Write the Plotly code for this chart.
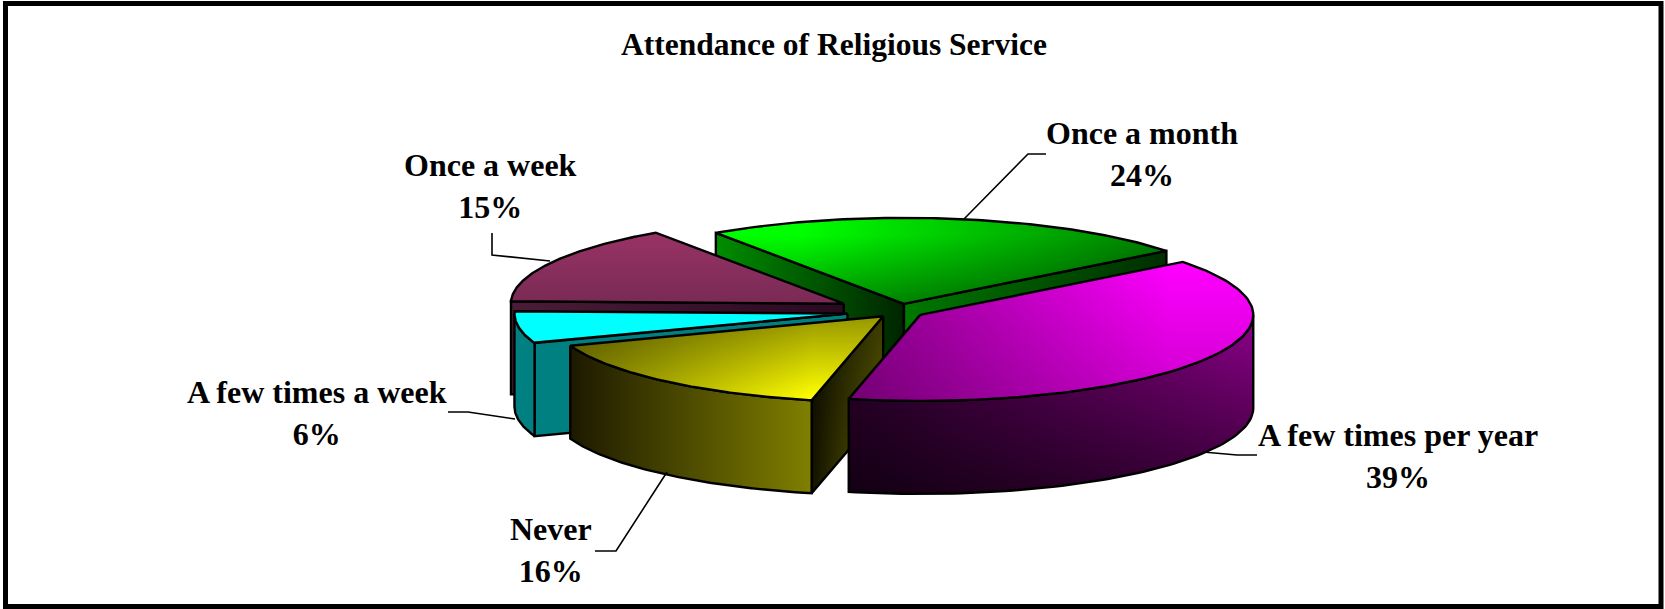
import numpy as np
import plotly.graph_objects as go

# ---- data ----
categories = ["A few times per year", "Never", "A few times a week", "Once a week", "Once a month"]
percent = [39, 16, 6, 15, 24]
title_text = "Attendance of Religious Service"

# ---- style / layout (not data) ----
W, H = 1665, 609
START_ANGLE = 38.0          # degrees, counter-clockwise from +x, slices run clockwise
EXPLODE = [0.074, 0.074, 0.158, 0.19, 0.09]
CX, CY = 899.4, 311.5
RX, RY, DEPTH = 333.0, 86.0, 93.0
DRAW_ORDER = [4, 3, 2, 1, 0]
FONT = "Liberation Serif"
LABEL_SIZE = 32
TITLE_SIZE = 31.5
LABEL_CENTERS = [(1398, 456), (551, 550), (317, 413), (490, 186), (1142, 154)]
LEADERS = [
    [(1257, 455), (1237, 455), (1203, 452)],
    [(595, 551), (616, 551), (667, 472)],
    [(448, 412), (468, 412), (515, 419)],
    [(492, 233), (492, 255), (550, 261)],
    [(1046, 154), (1028, 154), (964, 219)],
]

def bx(x0, x1, c0, c1):
    return dict(type="horizontal", start=x0, stop=x1, colorscale=[[0, c0], [1, c1]])

def by(y0, y1, c0, c1):
    return dict(type="vertical", start=y0, stop=y1, colorscale=[[0, c0], [1, c1]])

clear = "rgba(0,0,0,0)"
def shade(a):
    return f"rgba(0,0,0,{a})"

STYLES = {
    0: dict(top=(bx(850, 1170, "#900090", "#ff00ff"), by(263, 398, clear, shade(0.2))),
            wall=(bx(850, 1253, "#300030", "#8a0088"), by(320, 495, clear, shade(0.62))),
            start=("#400040", None), end=("#400040", None)),
    1: dict(top=(bx(573, 813, "#858500", "#ffff00"), by(315, 398, shade(0.42), clear)),
            wall=(bx(573, 813, "#1e1a00", "#808000"), None),
            start=(bx(813, 883, "#141400", "#6a6a00"), by(315, 490, shade(0.45), clear)),
            end=("#202000", None)),
    2: dict(top=("#00ffff", None), wall=("#008080", None),
            start=("#008080", None), end=("#008080", None)),
    3: dict(top=(by(231, 302, "#993366", "#7a2a55"), None), wall=("#301026", None),
            start=(bx(510, 842, "#4a1c38", "#2a0a20"), None), end=("#301026", None)),
    4: dict(top=(bx(800, 1173, "#00ff00", "#007c00"), by(235, 305, clear, shade(0.42))),
            wall=("#004000", None),
            start=(bx(718, 905, "#008c00", "#002400"), None),
            end=(bx(905, 1173, "#007800", "#002c00"), None)),
}

# ---- geometry derived from the values ----
fractions = np.array(percent, dtype=float) / sum(percent)
sweeps = fractions * 360.0
edges = START_ANGLE - np.concatenate([[0.0], np.cumsum(sweeps)])

fig = go.Figure()

def add_face(xs, ys, recipe):
    xs = list(xs) + [xs[0]]
    ys = list(ys) + [ys[0]]
    base, overlay = recipe
    layers = [base] + ([overlay] if overlay is not None else [])
    for i, layer in enumerate(layers):
        last = i == len(layers) - 1
        kw = dict(x=xs, y=ys, mode="lines", fill="toself", hoverinfo="skip", showlegend=False,
                  line=dict(color="black" if last else "rgba(0,0,0,0)", width=2.4))
        if isinstance(layer, str):
            kw["fillcolor"] = layer
        else:
            kw["fillgradient"] = layer
        fig.add_trace(go.Scatter(**kw))

def pt(ax, ay, deg):
    r = np.radians(deg)
    return ax + RX * np.cos(r), ay - RY * np.sin(r)

for idx in DRAW_ORDER:
    a0, a1 = edges[idx], edges[idx + 1]
    mid = np.radians((a0 + a1) / 2)
    ax = CX + EXPLODE[idx] * RX * np.cos(mid)
    ay = CY - EXPLODE[idx] * RY * np.sin(mid)
    style = STYLES[idx]

    # cut face at the first edge
    if np.cos(np.radians(a0)) < 0:
        ex, ey = pt(ax, ay, a0)
        add_face([ax, ex, ex, ax], [ay, ey, ey + DEPTH, ay + DEPTH], style["start"])
    # cut face at the last edge
    if np.cos(np.radians(a1)) > 0:
        ex, ey = pt(ax, ay, a1)
        add_face([ax, ex, ex, ax], [ay, ey, ey + DEPTH, ay + DEPTH], style["end"])
    # outer wall, front half only
    wall_hi, wall_lo = min(a0, 0.0), max(a1, -180.0)
    if wall_hi > wall_lo:
        th = np.linspace(wall_hi, wall_lo, 80)
        px, py = pt(ax, ay, th)
        add_face(list(px) + list(px[::-1]), list(py) + list((py + DEPTH)[::-1]), style["wall"])
    # top surface
    th = np.linspace(a0, a1, 120)
    px, py = pt(ax, ay, th)
    add_face([ax] + list(px), [ay] + list(py), style["top"])

# leader lines
for path in LEADERS:
    fig.add_trace(go.Scatter(x=[p[0] for p in path], y=[p[1] for p in path], mode="lines",
                             hoverinfo="skip", showlegend=False, line=dict(color="black", width=1.6)))

# labels
for name, pct, (lx, ly) in zip(categories, percent, LABEL_CENTERS):
    fig.add_annotation(x=lx, y=ly, text=f"<b>{name}<br>{pct}%</b>", showarrow=False, align="center",
                       xanchor="center", yanchor="middle",
                       font=dict(family=FONT, size=LABEL_SIZE, color="black"))
fig.add_annotation(x=834, y=44, text=f"<b>{title_text}</b>", showarrow=False, xanchor="center",
                   yanchor="middle", font=dict(family=FONT, size=TITLE_SIZE, color="black"))

fig.update_layout(
    width=W, height=H, margin=dict(l=0, r=0, t=0, b=0), autosize=False,
    paper_bgcolor="white", plot_bgcolor="white", showlegend=False,
    xaxis=dict(range=[0, W], visible=False, fixedrange=True),
    yaxis=dict(range=[H, 0], visible=False, fixedrange=True),
    shapes=[dict(type="rect", xref="x", yref="y", x0=5.5, y0=3.5, x1=1661, y1=606.5,
                 line=dict(color="black", width=5), fillcolor="rgba(0,0,0,0)", layer="above")],
)

fig.write_html("out.html", config={"displayModeBar": False},
               post_script="document.body.style.margin='0';document.body.style.overflow='hidden';")
